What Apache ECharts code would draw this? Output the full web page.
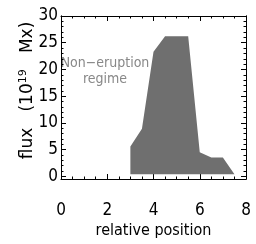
<!DOCTYPE html>
<html>
<head>
<meta charset="utf-8">
<script src="https://cdn.jsdelivr.net/npm/echarts@6/dist/echarts.min.js"></script>
<style>
  html, body { margin: 0; padding: 0; background: #fff; }
  #chart { width: 256px; height: 244px; }
</style>
</head>
<body>
<div id="chart"></div>
<script>
// upper edge of the eruption regime (relative position, flux in 1e19 Mx)
const positions = [3, 3.5, 4, 4.5, 5.5, 6, 6.5, 7, 7.5]
const fluxTop = [5.6, 8.9, 23.3, 26.2, 26.2, 4.5, 3.5, 3.5, 0.4]
const fluxBase = 0.4

const yMajor = [0, 5, 10, 15, 20, 25, 30]
const yMinor = []
for (let v = 0; v <= 30; v++) yMinor.push(v)

const font = '"DejaVu Sans Condensed", "Liberation Sans Narrow", sans-serif'
const wideFont = '"DejaVu Sans", sans-serif'
const chart = echarts.init(document.getElementById('chart'))

const yBase = { type: 'value', min: -0.5, max: 30, splitLine: { show: false },
  axisLine: { show: true, lineStyle: { color: '#000', width: 1 } } }

const yAxes = ['left', 'right'].flatMap((pos) => [
  Object.assign({}, yBase, {
    position: pos,
    axisTick: { inside: true, length: 5, customValues: yMajor, lineStyle: { color: '#000' } },
    axisLabel: pos === 'left'
      ? { customValues: yMajor, color: '#000', fontSize: 17, fontFamily: font, margin: 3 }
      : { show: false }
  }),
  Object.assign({}, yBase, {
    position: pos,
    axisTick: { inside: true, length: 2.5, customValues: yMinor, lineStyle: { color: '#000' } },
    axisLabel: { show: false }
  })
])

const xBase = { type: 'value', min: 0, max: 8, interval: 2, splitLine: { show: false },
  axisLine: { show: true, onZero: false, lineStyle: { color: '#000', width: 1 } },
  axisTick: { inside: true, length: 5, lineStyle: { color: '#000' } },
  minorTick: { show: true, splitNumber: 4, length: 2.5, lineStyle: { color: '#000' } } }

chart.setOption({
  animation: false,
  grid: { left: 61, right: 10, top: 16, bottom: 59 },
  xAxis: [
    Object.assign({}, xBase, {
      position: 'bottom',
      name: 'relative position', nameLocation: 'middle', nameGap: 44, nameMoveOverlap: false,
      nameTextStyle: { color: '#000', fontSize: 16, fontFamily: font },
      axisLabel: { color: '#000', fontSize: 17, fontFamily: font, margin: 23 }
    }),
    Object.assign({}, xBase, { position: 'top', axisLabel: { show: false } })
  ],
  yAxis: yAxes,
  graphic: [
    { type: 'text', x: 105, y: 71,
      style: { text: 'Non\u2212eruption\nregime', fill: '#888', font: '14px ' + font,
               align: 'center', verticalAlign: 'middle', lineHeight: 16 } },
    { type: 'text', x: 171, y: 131,
      style: { text: 'Eruption\nregime', fill: '#fff', font: '16px ' + font,
               align: 'center', verticalAlign: 'middle', lineHeight: 16 } }
  ],
  series: [{
    type: 'line',
    xAxisIndex: 0, yAxisIndex: 0,
    data: positions.map((p, i) => [p, fluxTop[i]]),
    symbol: 'none',
    lineStyle: { width: 0 },
    areaStyle: { color: '#6f6f6f', opacity: 1, origin: fluxBase },
    z: 1
  }]
})

// rotated y axis title with superscript
chart.setOption({
  yAxis: [{
    name: '{a|flux   (10}{s|19}{a|   Mx)}',
    nameLocation: 'middle', nameGap: 24, nameRotate: 90, nameMoveOverlap: false,
    nameTextStyle: { color: '#000', fontFamily: wideFont, padding: [0, 0, 0, 14],
      rich: { a: { fontSize: 17, fontFamily: wideFont, color: '#000' },
              s: { fontSize: 11, fontFamily: wideFont, color: '#000', verticalAlign: 'bottom', padding: [0, 0, 8, 0] } } }
  }]
})
</script>
</body>
</html>
